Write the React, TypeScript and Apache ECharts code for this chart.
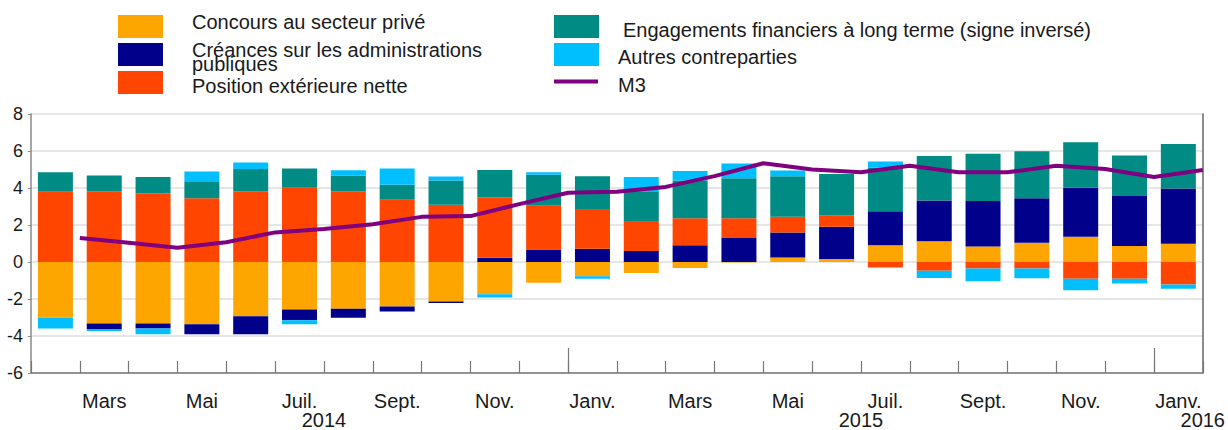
import React, { useEffect, useRef } from "react";
import * as echarts from "echarts";

const months = ["Févr.", "Mars", "Avr.", "Mai", "Juin", "Juil.", "Août", "Sept.", "Oct.", "Nov.", "Déc.", "Janv.",
  "Févr.", "Mars", "Avr.", "Mai", "Juin", "Juil.", "Août", "Sept.", "Oct.", "Nov.", "Déc.", "Janv."];
const yearLabels = ["", "", "", "", "", "", "2014", "", "", "", "", "", "", "", "", "", "", "2015", "", "", "", "", "", "", "2016"];

const concours = [-3.02, -3.32, -3.32, -3.37, -2.93, -2.57, -2.53, -2.41, -2.13, -1.74, -1.12, -0.77, -0.60, -0.33, -0.03, 0.25, 0.16, 0.90, 1.12, 0.84, 1.04, 1.37, 0.86, 0.98];
const creances = [0, -0.30, -0.27, -0.53, -0.97, -0.58, -0.48, -0.26, -0.09, 0.23, 0.67, 0.72, 0.60, 0.90, 1.30, 1.35, 1.74, 1.84, 2.20, 2.46, 2.40, 2.64, 2.71, 2.99];
const position = [3.80, 3.83, 3.71, 3.44, 3.83, 4.02, 3.83, 3.36, 3.09, 3.27, 2.37, 2.14, 1.61, 1.46, 1.06, 0.84, 0.63, -0.30, -0.47, -0.35, -0.35, -0.91, -0.91, -1.21];
const engagements = [1.05, 0.84, 0.88, 0.92, 1.20, 1.04, 0.84, 0.82, 1.32, 1.47, 1.67, 1.78, 1.62, 2.05, 2.17, 2.20, 2.23, 2.37, 2.41, 2.55, 2.55, 2.46, 2.19, 2.41];
const autres = [-0.57, -0.11, -0.31, 0.53, 0.35, -0.22, 0.29, 0.88, 0.21, -0.18, 0.14, -0.13, 0.76, 0.51, 0.80, 0.30, 0, 0.32, -0.39, -0.69, -0.53, -0.62, -0.25, -0.23];
const m3 = [1.30, 1.04, 0.77, 1.07, 1.60, 1.78, 2.04, 2.44, 2.48, 3.13, 3.74, 3.80, 4.06, 4.64, 5.34, 5.00, 4.85, 5.20, 4.85, 4.85, 5.20, 5.03, 4.59, 4.97];

const names = {
  concours: "Concours au secteur privé",
  creances: "Créances sur les administrations\npubliques",
  position: "Position extérieure nette",
  engagements: "Engagements financiers à long terme (signe inversé)",
  autres: "Autres contreparties",
  m3: "M3",
};
const colors = {
  concours: "#FFA500",
  creances: "#00008B",
  position: "#FF4500",
  engagements: "#008B84",
  autres: "#00BFFF",
  m3: "#800080",
};

const FONT = "'Liberation Sans', Arial, sans-serif";
const TXT = "#1a1a1a";

export default function App() {
  const ref = useRef<HTMLDivElement>(null);
  useEffect(() => {
    if (!ref.current) return;
    const chart = echarts.init(ref.current, null, { renderer: "svg" });
    const barSeries = (key: string, data: number[]) => ({
      name: names[key],
      type: "bar",
      stack: "total",
      barWidth: 35,
      data,
      itemStyle: { color: colors[key] },
      xAxisIndex: 0,
      yAxisIndex: 0,
    });
    const legendText = (x: number, y: number, text: string, extra: any = {}) => ({
      type: "text",
      x,
      y,
      style: { text, fontSize: 20, fontFamily: FONT, fill: TXT, verticalAlign: "middle", ...extra },
    });
    const legendRect = (x: number, y: number, color: string) => ({
      type: "rect",
      shape: { x, y, width: 45, height: 23 },
      style: { fill: color },
    });
    chart.setOption({
      animation: false,
      grid: { left: 31, right: 24, top: 114, bottom: 51, containLabel: false },
      xAxis: [
        {
          type: "category",
          data: months,
          boundaryGap: true,
          position: "bottom",
          axisLine: { show: true, onZero: false, lineStyle: { color: "#777", width: 1.5 } },
          axisTick: { show: true, inside: true, length: 12, interval: 0, lineStyle: { color: "#777", width: 1.2 } },
          axisLabel: {
            interval: (i: number) => i % 2 === 1,
            margin: 18,
            fontSize: 20,
            fontFamily: FONT,
            color: TXT,
          },
          splitLine: { show: false },
        },
        {
          type: "category",
          data: yearLabels,
          boundaryGap: false,
          position: "bottom",
          axisLine: { show: false, onZero: false },
          axisTick: {
            show: true,
            inside: true,
            length: 25,
            interval: (i: number) => i === 11 || i === 23,
            lineStyle: { color: "#777", width: 1.2 },
          },
          axisLabel: { interval: 0, margin: 37, fontSize: 20, fontFamily: FONT, color: TXT },
          splitLine: { show: false },
        },
      ],
      yAxis: [
        {
          type: "value",
          min: -6,
          max: 8,
          interval: 2,
          axisLine: { show: true, lineStyle: { color: "#888", width: 1.5 } },
          axisTick: { show: true, length: 3, lineStyle: { color: "#888" } },
          axisLabel: { fontSize: 18, fontFamily: FONT, color: TXT, margin: 8 },
          splitLine: { show: true, lineStyle: { color: "#dedede", width: 1.5 } },
        },
        {
          type: "value",
          position: "right",
          min: -6,
          max: 8,
          interval: 2,
          axisLine: { show: true, lineStyle: { color: "#666", width: 1.5 } },
          axisTick: { show: false },
          axisLabel: { show: false },
          splitLine: { show: false },
        },
      ],
      series: [
        barSeries("concours", concours),
        barSeries("creances", creances),
        barSeries("position", position),
        barSeries("engagements", engagements),
        barSeries("autres", autres),
        {
          name: names.m3,
          type: "line",
          xAxisIndex: 1,
          yAxisIndex: 0,
          data: ["-", ...m3],
          symbol: "none",
          lineStyle: { color: colors.m3, width: 4 },
          itemStyle: { color: colors.m3 },
          z: 5,
        },
      ],
      graphic: [
        legendRect(118, 15, colors.concours),
        legendRect(118, 43, colors.creances),
        legendRect(118, 71, colors.position),
        legendText(192, 22, names.concours),
        legendText(192, 43, names.creances, { verticalAlign: "top", lineHeight: 14 }),
        legendText(192, 86, names.position),
        legendRect(554, 15, colors.engagements),
        legendRect(554, 43, colors.autres),
        {
          type: "line",
          shape: { x1: 554, y1: 81.5, x2: 598, y2: 81.5 },
          style: { stroke: colors.m3, lineWidth: 4 },
        },
        legendText(623, 30, names.engagements),
        legendText(618, 57, names.autres),
        legendText(618, 85, names.m3),
      ],
    });
    return () => chart.dispose();
  }, []);
  return (
    <div
      ref={ref}
      style={{ position: "absolute", left: 0, top: 0, width: 1228, height: 430, background: "#fff" }}
    />
  );
}
